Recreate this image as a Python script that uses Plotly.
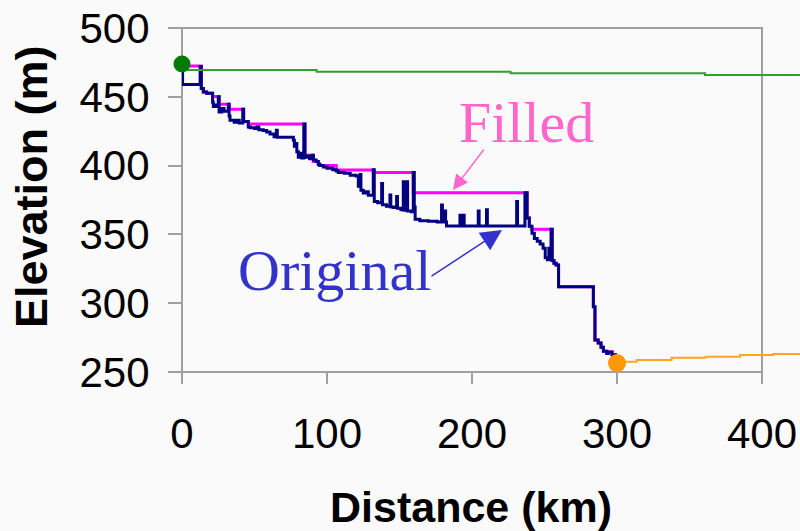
import plotly.graph_objects as go

# ---- data ----
orig_x = [0, 0.4, 12.5, 13.3, 14.7, 17, 21.1, 21.6, 23.5, 25, 25.6, 27.4, 29, 31.9, 32.5, 33.1, 36, 38, 39.5,
          41.9, 42.5, 45.7, 47, 50, 52, 53, 56, 58.4, 60.7, 63.5, 65.1, 65.7, 76.8, 77.5, 78.5, 79.2, 80.2,
          82, 82.6, 84, 84.8, 86.5, 88, 90, 90.6, 92.5, 94, 95, 97.5, 100, 104, 106.4, 107.8, 112, 116, 120,
          121.6, 122.8, 123.4, 125, 127, 128.5, 131.9, 132.6, 135, 137.7, 138.3, 141, 143.4, 144, 146, 148,
          148.6, 151, 152.6, 153.2, 155, 155.6, 158, 159.5, 160.2, 160.8, 164, 170, 176, 179, 179.6, 181.2,
          181.8, 182.4, 191.7, 192.3, 194, 194.6, 204.3, 204.9, 210, 210.6, 230.8, 231.4, 236.5, 238, 239.5,
          241.4, 243, 245, 247, 249, 250.5, 252, 253, 253.5, 254.5, 255.3, 256.5, 258, 259.7, 283.7, 284.8,
          287, 289, 290.6, 292.9, 294, 296, 296.6, 300]
orig_y = [472, 459, 472, 456, 453.5, 452.5, 446, 443, 444, 450, 439, 441.5, 439.5, 444.6, 436, 433, 431.5, 433, 431,
          441, 432, 428, 427.5, 427, 428, 426, 425.5, 424.5, 423, 421, 425.7, 420.6, 418.5, 414, 416, 410, 406,
          409, 405.5, 430.2, 406, 407, 405, 407.6, 404, 403, 401, 400, 399, 398, 397, 396, 395, 394.5, 393, 392.4,
          385, 393.5, 382, 380, 381, 378.5, 397, 374, 373, 387, 371.5, 370.5, 378.6, 370, 369.5, 377.6,
          369, 368, 388.3, 367.5, 388.3, 367, 366.5, 395, 370, 361, 360, 359.5, 359, 371.4, 359, 367,
          359, 356.1, 364, 356.1, 364, 356.1, 367, 356.1, 368, 356.1, 374, 356.1, 380.3, 362, 356,
          350.8, 347, 345, 343, 340, 333, 331.5, 340, 331.5, 353.7, 331, 329, 327.8, 312, 297.5, 273.3,
          271, 268, 265, 263.5, 264.5, 264.5, 262.5, 262.5]

filled_x = [0, 13.3, 14.7, 17, 21.1, 25.6, 32.5, 42.5, 45.7, 84.8, 90.6, 94, 95, 106.4, 131.9, 159.5,
            238, 239.5, 241, 255.3, 256.5, 258, 259.7, 283.7, 284.8, 287, 289, 290.6, 292.9, 296.6, 300]
filled_y = [472.4, 456, 453.5, 452.5, 450.2, 444.5, 441, 432, 430.2, 407.6, 403, 401, 400, 396.8, 394.9, 380.3,
            362, 356, 353.7, 331, 329, 327.8, 312, 297.5, 273.3, 271, 268, 265, 264.5, 262.5, 262.5]

green_x = [0, 92.8, 226.6, 360.7, 426.2]
green_y = [469.5, 468.2, 467.1, 465.8, 465.8]

orange_x = [300, 313.6, 337.7, 361.2, 384.8, 407.8, 426.2]
orange_y = [257.5, 258.7, 260.4, 261.1, 262.4, 263.1, 263.1]

start_pt = (0, 473.8)
end_pt = (300, 256.5)

x_ticks = [0, 100, 200, 300, 400]
y_ticks = [250, 300, 350, 400, 450, 500]

# ---- figure ----
fig = go.Figure()
fig.add_trace(go.Scatter(x=filled_x, y=filled_y, mode="lines", line=dict(color="#ff00ff", width=3, shape="hv"),
                         name="Filled"))
fig.add_trace(go.Scatter(x=orig_x, y=orig_y, mode="lines", line=dict(color="#000080", width=3, shape="hv"),
                         name="Original"))
fig.add_trace(go.Scatter(x=green_x, y=green_y, mode="lines", line=dict(color="#33a033", width=2, shape="hv")))
fig.add_trace(go.Scatter(x=orange_x, y=orange_y, mode="lines", line=dict(color="#ffa520", width=2, shape="hv")))
fig.add_trace(go.Scatter(x=[start_pt[0]], y=[start_pt[1]], mode="markers", cliponaxis=False,
                         marker=dict(color="#007a00", size=17)))
fig.add_trace(go.Scatter(x=[end_pt[0]], y=[end_pt[1]], mode="markers", cliponaxis=False,
                         marker=dict(color="#ff9900", size=18)))

tick_font = dict(family="Liberation Sans, Arial", size=42, color="black")
title_font = dict(family="Liberation Sans, Arial", size=43, color="black")
ytitle_font = dict(family="Liberation Sans, Arial", size=45, color="black")
serif = "Liberation Serif, Times New Roman"

xmax = 400 * 618 / 580
fig.update_layout(
    width=800, height=531,
    margin=dict(l=182, r=0, t=28, b=159),
    paper_bgcolor="#fafafa", plot_bgcolor="#fafafa",
    showlegend=False,
    xaxis=dict(range=[0, xmax], tickvals=x_ticks, ticks="outside", ticklen=11, tickwidth=2,
               tickcolor="#a0a0a0", showgrid=False, zeroline=False, showline=False, tickfont=tick_font,
               ticklabelstandoff=14),
    yaxis=dict(range=[250, 500], tickvals=y_ticks, ticks="outside", ticklen=13, tickwidth=2,
               tickcolor="#a0a0a0", showgrid=False, zeroline=False, showline=False, tickfont=tick_font,
               ticklabelstandoff=10),
    shapes=[dict(type="rect", xref="paper", yref="paper", x0=0, x1=580 / 618, y0=0, y1=1,
                 line=dict(color="#a0a0a0", width=2), layer="below")],
    annotations=[
        dict(text="<b>Distance (km)</b>", xref="paper", yref="paper", x=(471 - 182) / 618, y=(372 - 507) / 344,
             xanchor="center", yanchor="middle", showarrow=False, font=title_font),
        dict(text="<b>Elevation (m)</b>", xref="paper", yref="paper", x=(31 - 182) / 618, y=(372 - 187) / 344,
             xanchor="center", yanchor="middle", showarrow=False, textangle=-90, font=ytitle_font),
        dict(text="Filled", xref="paper", yref="paper", x=(526.5 - 182) / 618, y=(372 - 122) / 344,
             xanchor="center", yanchor="middle", showarrow=False, font=dict(family=serif, size=58, color="#ff66cc")),
        dict(text="Original", xref="paper", yref="paper", x=(334 - 182) / 618, y=(372 - 270) / 344,
             xanchor="center", yanchor="middle", showarrow=False, font=dict(family=serif, size=58, color="#3333cc")),
        dict(text="", x=186.9, y=382.3, ax=32, ay=-42, showarrow=True, arrowhead=2, arrowsize=2,
             arrowwidth=1.5, arrowcolor="#ff66cc"),
        dict(text="", x=220.7, y=353.2, ax=-72, ay=47, showarrow=True, arrowhead=2, arrowsize=2.8,
             arrowwidth=1.5, arrowcolor="#3333cc"),
    ],
)

fig.write_html("out.html", config={"displayModeBar": False},
               post_script="document.body.style.margin='0';document.body.style.overflow='hidden';")
